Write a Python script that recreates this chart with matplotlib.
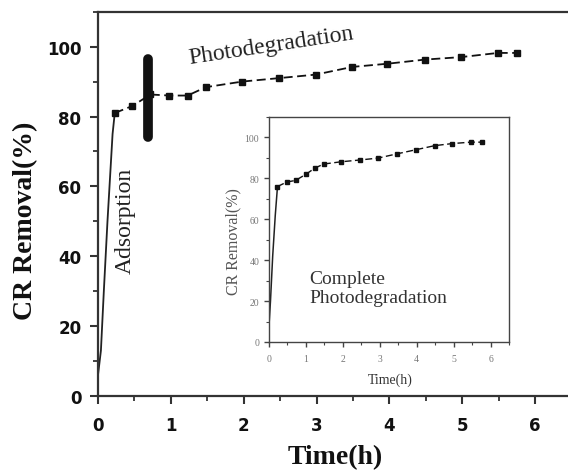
import matplotlib
matplotlib.use("Agg")
from matplotlib import pyplot as plt
from matplotlib.ticker import MultipleLocator

# main panel: fast adsorption rise, then the photodegradation points
rise_t = [0, 0.04, 0.08, 0.13, 0.2, 0.23]
rise_y = [6, 13, 30, 50, 75, 81]
time_h = [0.23, 0.47, 0.72, 0.98, 1.23, 1.48, 1.98, 2.49, 2.99, 3.49, 3.97, 4.49, 4.98, 5.49, 5.75]
removal = [81, 83, 86.3, 86, 86, 88.4, 90, 91, 92, 94.2, 95.1, 96.3, 97, 98.2, 98.2]

# inset: complete photodegradation run
in_rise_t = [0, 0.04, 0.1, 0.17, 0.23]
in_rise_y = [8, 20, 42, 62, 76]
in_time_h = [0.23, 0.48, 0.72, 1.0, 1.24, 1.48, 1.95, 2.47, 2.95, 3.47, 3.98, 4.49, 4.96, 5.46, 5.76]
in_removal = [76, 78.2, 79, 82, 85, 87, 88.1, 89, 89.9, 92, 94, 96, 97, 97.7, 97.7]

serif = 'Liberation Serif'

fig = plt.figure(figsize=(5.68, 4.77), dpi=100)
ax = fig.add_axes([98 / 568, 80 / 477, 470 / 568, 384.3 / 477])

ax.plot(rise_t, rise_y, color='#222222', lw=1.3)
ax.plot(time_h, removal, color='#111111', lw=1.3, dashes=(5, 2.5),
        marker='s', markersize=5, markerfacecolor='#111111', markeredgecolor='#111111')
# bar separating adsorption from photodegradation
ax.plot([0.68, 0.68], [74, 96.5], color='#111111', lw=7, solid_capstyle='round')

ax.set_xlim(0, 6.45)
ax.set_ylim(0, 110)
ax.xaxis.set_major_locator(MultipleLocator(1))
ax.xaxis.set_minor_locator(MultipleLocator(0.5))
ax.yaxis.set_major_locator(MultipleLocator(20))
ax.yaxis.set_minor_locator(MultipleLocator(10))
ax.spines['right'].set_visible(False)
for s in ['left', 'bottom', 'top']:
    ax.spines[s].set_linewidth(1.6)
    ax.spines[s].set_color('#333333')
ax.tick_params(which='major', direction='out', length=6, width=1.5, color='#333333')
ax.tick_params(which='minor', direction='out', length=3.5, width=1.3, color='#333333')
ax.tick_params(axis='x', which='major', pad=8.5)
ax.tick_params(axis='y', which='major', pad=6)
for lab in ax.get_xticklabels() + ax.get_yticklabels():
    lab.set_fontfamily('DejaVu Sans')
    lab.set_fontweight('bold')
    lab.set_fontsize(12)
    lab.set_color('#111111')

ax.set_ylabel('CR Removal(%)', fontfamily=serif, fontweight='bold', fontsize=20,
              color='#111111', va='center')
ax.yaxis.set_label_coords(-0.153, 0.458)
ax.set_xlabel('Time(h)', fontfamily=serif, fontweight='bold', fontsize=20,
              color='#111111', va='center')
ax.xaxis.set_label_coords(0.504, -0.159)

ax.text(2.38, 100.3, 'Photodegradation', fontfamily=serif, fontsize=17, color='#222222',
        rotation=8.6, ha='center', va='center', rotation_mode='anchor')
ax.text(0.37, 50.3, 'Adsorption', fontfamily=serif, fontsize=17, color='#222222',
        rotation=90, ha='center', va='center')

# inset
ins = fig.add_axes([269 / 568, 134 / 477, 240 / 568, 225 / 477])
ins.plot(in_rise_t, in_rise_y, color='#222222', lw=1.1)
ins.plot(in_time_h, in_removal, color='#111111', lw=1.0, dashes=(5, 2.5),
         marker='s', markersize=3.2, markerfacecolor='#111111', markeredgecolor='#111111')
ins.set_xlim(0, 6.5)
ins.set_ylim(0, 110)
ins.xaxis.set_major_locator(MultipleLocator(1))
ins.xaxis.set_minor_locator(MultipleLocator(0.5))
ins.yaxis.set_major_locator(MultipleLocator(20))
ins.yaxis.set_minor_locator(MultipleLocator(10))
for s in ins.spines.values():
    s.set_linewidth(1.0)
    s.set_color('#444444')
ins.tick_params(which='major', direction='out', length=3.5, width=1.0, color='#444444',
                labelsize=7, labelcolor='#777777')
ins.tick_params(which='minor', direction='out', length=2, width=0.8, color='#444444')
ins.tick_params(axis='x', pad=5)
ins.tick_params(axis='y', pad=3.5)
for lab in ins.get_xticklabels() + ins.get_yticklabels():
    lab.set_fontfamily(serif)

ins.set_ylabel('CR Removal(%)', fontfamily=serif, fontsize=11.5, color='#555555', va='center')
ins.yaxis.set_label_coords(-0.15, 0.449)
ins.set_xlabel('Time(h)', fontfamily=serif, fontsize=10, color='#333333', va='center')
ins.xaxis.set_label_coords(0.504, -0.164)
ins.text(0.167, 0.24, 'Complete\nPhotodegradation', transform=ins.transAxes,
         fontfamily=serif, fontsize=14, color='#333333', ha='left', va='center',
         linespacing=1.15)

fig.savefig('out.png', dpi=100)
